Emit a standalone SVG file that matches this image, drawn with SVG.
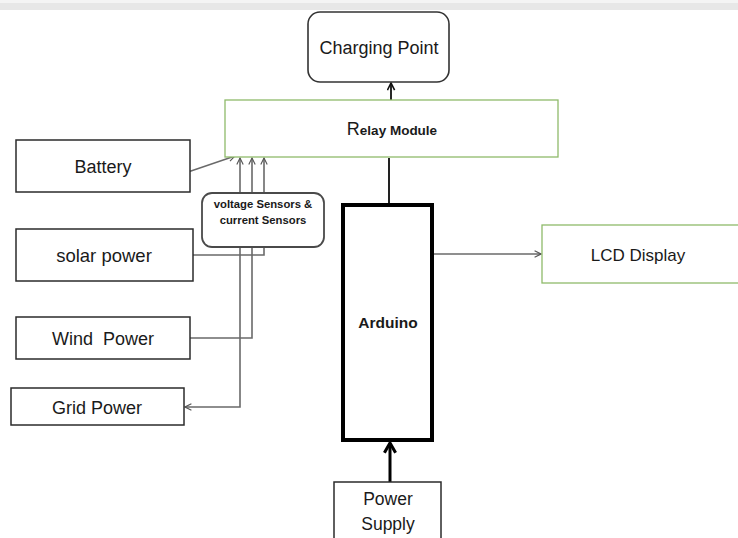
<svg xmlns="http://www.w3.org/2000/svg" width="738" height="538" viewBox="0 0 738 538">
<style>
  .box { fill: #fff; stroke: #2b2b2b; stroke-width: 1.5; }
  .green { fill: #fff; stroke: #8fba6a; stroke-width: 1.3; }
  .t { font-family: "Liberation Sans", Arial, sans-serif; fill: #1a1a1a; text-anchor: middle; }
  .b { font-weight: bold; }
  .conn { fill: none; stroke: #6a6a6a; stroke-width: 1.6; }
</style>
<defs>
  <marker id="open" viewBox="0 0 10 10" refX="9" refY="5" markerWidth="8" markerHeight="8" markerUnits="userSpaceOnUse" orient="auto-start-reverse">
    <path d="M1,1 L9,5 L1,9" fill="none" stroke="#555" stroke-width="1.4"/>
  </marker>
  <marker id="openBlack" viewBox="0 0 10 10" refX="9" refY="5" markerWidth="9" markerHeight="9" markerUnits="userSpaceOnUse" orient="auto">
    <path d="M1,1 L9,5 L1,9" fill="none" stroke="#111" stroke-width="1.8"/>
  </marker>
  <marker id="thick" viewBox="0 0 10 10" refX="8.5" refY="5" markerWidth="14" markerHeight="14" markerUnits="userSpaceOnUse" orient="auto">
    <path d="M1.5,1 L8.5,5 L1.5,9" fill="none" stroke="#000" stroke-width="2.2"/>
  </marker>
</defs>
<rect x="0" y="0" width="738" height="538" fill="#fff"/>
<rect x="0" y="0" width="738" height="3" fill="#f4f4f4"/>
<rect x="0" y="3" width="738" height="7" fill="#e7e7e7"/>

<g id="connectors">
  <path class="conn" d="M188,172 L235,156" marker-end="url(#open)"/>
  <path class="conn" d="M193,255 H264 V158" marker-end="url(#open)"/>
  <path class="conn" d="M190,338 H252 V158" marker-end="url(#open)"/>
  <path class="conn" d="M240,158 V407 H185" marker-start="url(#open)" marker-end="url(#open)"/>
  <path class="conn" d="M434,254 H541" marker-end="url(#open)"/>
  <path fill="none" stroke="#111" stroke-width="1.8" d="M391,100 V83" marker-end="url(#openBlack)"/>
  <path fill="none" stroke="#222" stroke-width="2" d="M389,158 V205"/>
  <path fill="none" stroke="#000" stroke-width="3" d="M390,482 V443" marker-end="url(#thick)"/>
</g>

<g id="charging-point">
  <rect x="308" y="12" width="141" height="70" rx="12" ry="12" fill="#fff" stroke="#333" stroke-width="1.6"/>
  <text class="t" x="379" y="54" font-size="18">Charging Point</text>
</g>

<g id="relay-module">
  <rect class="green" x="225" y="100" width="333" height="57"/>
  <text class="t" x="392" y="135"><tspan font-size="18">R</tspan><tspan class="b" font-size="13.5">elay Module</tspan></text>
</g>

<g id="battery">
  <rect class="box" x="16" y="140" width="174" height="52"/>
  <text class="t" x="103" y="173" font-size="18">Battery</text>
</g>

<g id="sensors">
  <rect x="202" y="193" width="122" height="54" rx="10" ry="10" fill="#fff" stroke="#4a4a4a" stroke-width="1.8"/>
  <text class="t b" x="263" y="208" font-size="11.3">voltage Sensors &amp;</text>
  <text class="t b" x="263" y="224" font-size="11.3">current Sensors</text>
</g>

<g id="solar-power">
  <rect class="box" x="16" y="229" width="177" height="52"/>
  <text class="t" x="104" y="262" font-size="18.5">solar power</text>
</g>

<g id="wind-power">
  <rect class="box" x="16" y="317" width="174" height="42"/>
  <text class="t" x="103" y="345" font-size="18" style="white-space:pre">Wind  Power</text>
</g>

<g id="grid-power">
  <rect class="box" x="11" y="388" width="173" height="37"/>
  <text class="t" x="97" y="414" font-size="18">Grid Power</text>
</g>

<g id="arduino">
  <rect x="343" y="205" width="89" height="235" fill="#fff" stroke="#000" stroke-width="4"/>
  <text class="t b" x="388" y="328" font-size="15.5">Arduino</text>
</g>

<g id="lcd-display">
  <rect class="green" x="542" y="225" width="200" height="58"/>
  <text class="t" x="638" y="261" font-size="17">LCD Display</text>
</g>

<g id="power-supply">
  <rect class="box" x="334" y="482" width="107" height="60"/>
  <text class="t" x="388" y="505" font-size="17.5">Power</text>
  <text class="t" x="388" y="530" font-size="17.5">Supply</text>
</g>
</svg>
